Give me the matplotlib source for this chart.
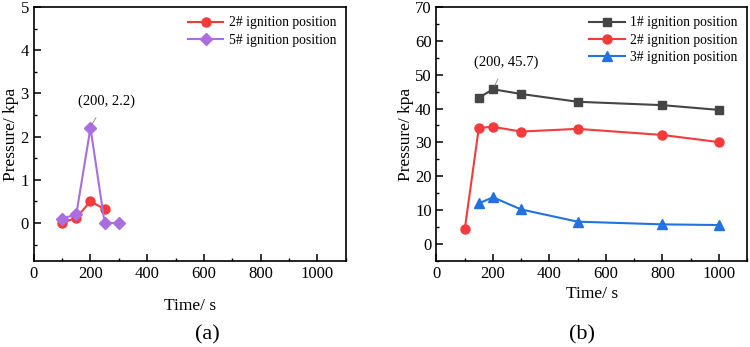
import matplotlib.pyplot as plt
from matplotlib.ticker import MultipleLocator

plt.rcParams['font.family'] = ['Liberation Serif', 'DejaVu Serif']

# (a) panel data
t_a2 = [100, 150, 200, 250]
p_a2 = [0.0, 0.12, 0.5, 0.32]
t_a5 = [100, 150, 200, 250, 300]
p_a5 = [0.1, 0.2, 2.2, 0.0, 0.0]

# (b) panel data
t_b1 = [150, 200, 300, 500, 800, 1000]
p_b1 = [43.2, 45.7, 44.3, 42.0, 41.0, 39.6]
t_b2 = [100, 150, 200, 300, 500, 800, 1000]
p_b2 = [4.3, 34.3, 34.6, 33.2, 34.0, 32.2, 30.1]
t_b3 = [150, 200, 300, 500, 800, 1000]
p_b3 = [12.0, 13.8, 10.2, 6.6, 5.8, 5.6]

red = '#f43b3b'
purple = '#a96ee0'
dark = '#454545'
blue = '#2272e0'

fig = plt.figure(figsize=(7.5, 3.47), dpi=100)
ax1 = fig.add_axes([0.045, 0.248, 0.416, 0.732])
ax2 = fig.add_axes([0.582, 0.248, 0.414, 0.732])

ax1.plot(t_a2, p_a2, color=red, marker='o', ms=6.5, lw=1.5, label='2# ignition position')
ax1.plot(t_a5, p_a5, color=purple, marker='D', ms=6, lw=1.5, label='5# ignition position')
ax1.set_xlim(0, 1100)
ax1.set_ylim(-0.88, 5)
ax1.yaxis.set_major_locator(MultipleLocator(1))
ax1.yaxis.set_minor_locator(MultipleLocator(0.5))
ax1.annotate('(200, 2.2)', xy=(205, 2.28), xytext=(255, 2.82),
             ha='center', va='center', fontsize=10.5,
             arrowprops=dict(arrowstyle='-', color='gray', lw=0.6, shrinkA=6, shrinkB=0))

ax2.plot(t_b1, p_b1, color=dark, marker='s', ms=6, lw=1.5, label='1# ignition position')
ax2.plot(t_b2, p_b2, color=red, marker='o', ms=6.5, lw=1.5, label='2# ignition position')
ax2.plot(t_b3, p_b3, color=blue, marker='^', ms=7, lw=1.5, label='3# ignition position')
ax2.set_xlim(0, 1100)
ax2.set_ylim(-5, 70)
ax2.yaxis.set_major_locator(MultipleLocator(10))
ax2.yaxis.set_minor_locator(MultipleLocator(5))
ax2.annotate('(200, 45.7)', xy=(205, 46.6), xytext=(248, 53.8),
             ha='center', va='center', fontsize=10.5,
             arrowprops=dict(arrowstyle='-', color='gray', lw=0.6, shrinkA=6, shrinkB=0))

for ax in (ax1, ax2):
    ax.xaxis.set_major_locator(MultipleLocator(200))
    ax.xaxis.set_minor_locator(MultipleLocator(100))
    ax.tick_params(which='both', direction='in', top=False, right=False, labelsize=12)
    ax.tick_params(which='major', length=5, width=1.1)
    ax.tick_params(which='minor', length=2.5, width=1.0)
    ax.set_ylabel('Pressure/ kpa', fontsize=12.5, labelpad=1)
    for s in ax.spines.values():
        s.set_linewidth(1.2)
    ax.legend(loc='upper right', frameon=False, fontsize=9.8, handlelength=2.6,
              borderaxespad=0.3, labelspacing=0.3, handletextpad=0.4)

ax1.set_xlabel('Time/ s', fontsize=12.5, labelpad=12)
ax2.set_xlabel('Time/ s', fontsize=12.5, labelpad=3)

fig.text(0.276, 0.035, '(a)', ha='center', va='center', fontsize=16)
fig.text(0.776, 0.035, '(b)', ha='center', va='center', fontsize=16)

fig.savefig('out.png', dpi=100)
